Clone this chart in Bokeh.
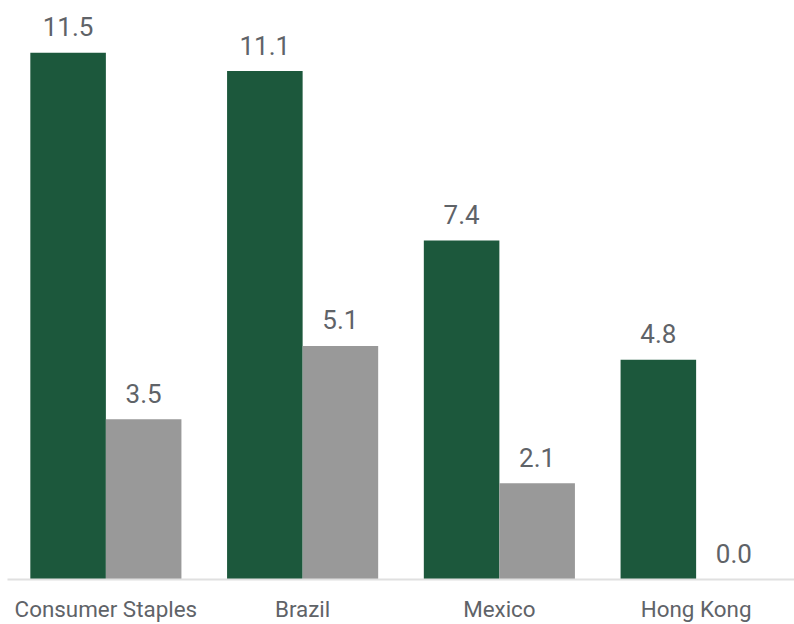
from bokeh.plotting import figure
from bokeh.models import ColumnDataSource, FactorRange, Range1d
from bokeh.transform import dodge
from bokeh.core.properties import value
from bokeh.embed import file_html
from bokeh.resources import INLINE

categories = ["Consumer Staples", "Brazil", "Mexico", "Hong Kong"]
series_a = [11.5, 11.1, 7.4, 4.8]
series_b = [3.5, 5.1, 2.1, 0.0]

GREEN = "#1c583c"
GRAY = "#999999"
TEXT = "#5f6368"

src = ColumnDataSource(dict(
    cat=categories,
    a=series_a,
    b=series_b,
    a_lbl=[f"{v:.1f}" for v in series_a],
    b_lbl=[f"{v:.1f}" for v in series_b],
))

p = figure(x_range=FactorRange(*categories, range_padding=0),
           y_range=Range1d(0, 12.64),
           width=794, height=624, output_backend="svg", toolbar_location=None,
           min_border_left=7, min_border_right=0, min_border_top=0,
           min_border_bottom=44)

w = 0.384
p.vbar(x=dodge("cat", -w / 2, range=p.x_range), top="a", width=w, source=src,
       fill_color=GREEN, line_color=None)
p.vbar(x=dodge("cat", w / 2, range=p.x_range), top="b", width=w, source=src,
       fill_color=GRAY, line_color=None)

p.text(x=dodge("cat", -w / 2, range=p.x_range), y="a", text="a_lbl", source=src,
       text_align="center", text_baseline="alphabetic", y_offset=-26,
       text_font=value("Roboto"), text_font_size="26px", text_color=TEXT)
p.text(x=dodge("cat", w / 2, range=p.x_range), y="b", text="b_lbl", source=src,
       text_align="center", text_baseline="alphabetic", y_offset=-26,
       text_font=value("Roboto"), text_font_size="26px", text_color=TEXT)

p.yaxis.visible = False
p.xgrid.grid_line_color = None
p.ygrid.grid_line_color = None
p.outline_line_color = None

ax = p.xaxis[0]
ax.axis_line_color = "#e0e0e0"
ax.axis_line_width = 2
ax.major_tick_line_color = None
ax.minor_tick_line_color = None
ax.major_label_text_font = "Roboto"
ax.major_label_text_font_size = "22.4px"
ax.major_label_text_color = TEXT
ax.major_label_standoff = 10

open("out.html", "w").write(file_html(p, INLINE))
